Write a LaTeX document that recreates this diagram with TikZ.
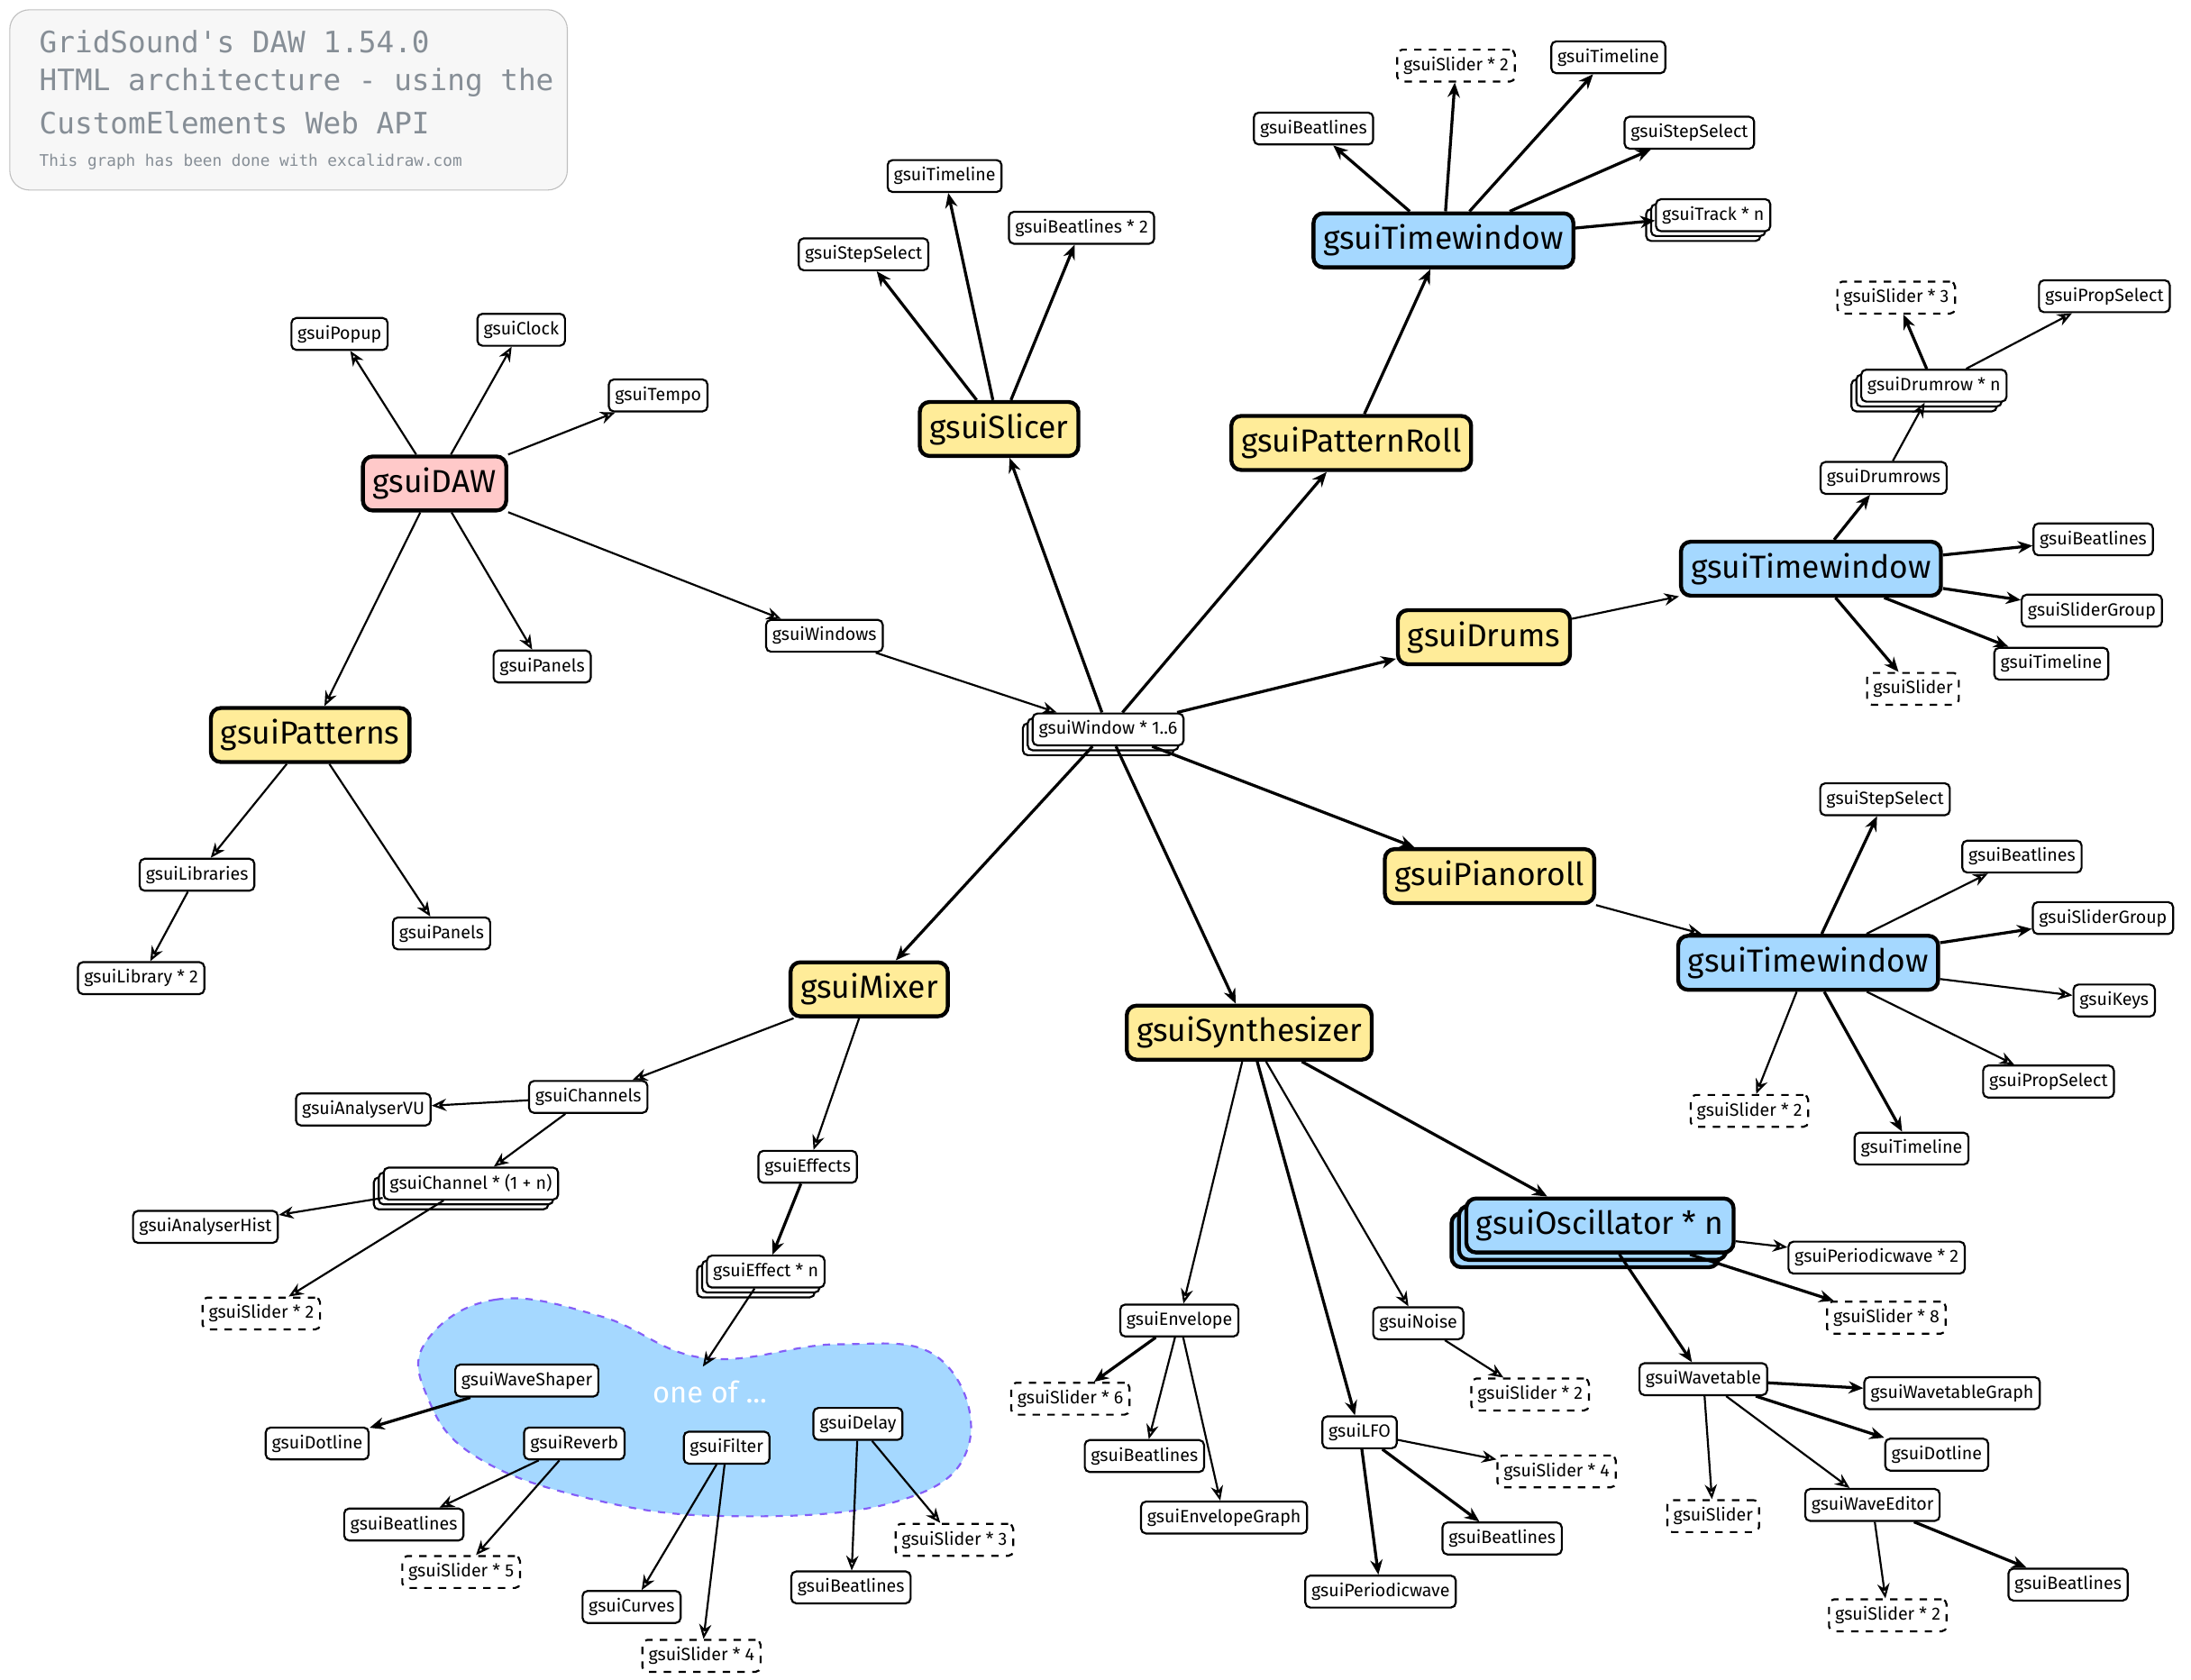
\documentclass[tikz,border=0pt]{standalone}
\usepackage{fontspec}
\setmainfont{Fira Sans}
\newfontfamily\monof{DejaVu Sans Mono}
\usetikzlibrary{arrows.meta,shadows}
\definecolor{pinkc}{HTML}{FFC9C9}
\definecolor{yelc}{HTML}{FFEC99}
\definecolor{bluec}{HTML}{A5D8FF}
\definecolor{purc}{HTML}{845EF7}
\definecolor{grayt}{HTML}{868E96}
\tikzset{
 sm/.style={draw,thick,rounded corners=2pt,fill=white,font=\fontsize{7.2}{8}\selectfont,inner sep=2.5pt,minimum height=13pt},
 dsm/.style={sm,dashed},
 stk/.style={sm,double copy shadow={shadow xshift=-2pt,shadow yshift=-2pt,draw,fill=white}},
 big/.style={draw,line width=1.6pt,rounded corners=4pt,font=\fontsize{13}{15}\selectfont,inner sep=4pt,minimum height=22pt},
 yb/.style={big,fill=yelc},
 bb/.style={big,fill=bluec},
 ar/.style={-{Stealth[open,length=6pt,width=5pt]},thick},
 ar2/.style={ar,line width=1.2pt}
}
\begin{document}
\begin{tikzpicture}[x=0.02cm,y=-0.02cm]
\useasboundingbox (0,0) rectangle (1568,1202);
% title
\draw[draw=gray!50,fill=gray!6,rounded corners=8pt] (7,7) rectangle (406,136);
\node[anchor=west,text=grayt,font=\monof\fontsize{12}{14}\selectfont] (t1) at (22,30) {GridSound's DAW 1.54.0};
\node[anchor=west,text=grayt,font=\monof\fontsize{12}{14}\selectfont] (t2) at (22,59) {HTML architecture - using the};
\node[anchor=west,text=grayt,font=\monof\fontsize{12}{14}\selectfont] (t3) at (22,88) {CustomElements Web API};
\node[anchor=west,text=grayt,font=\monof\fontsize{6.5}{8}\selectfont] (t4) at (22,116) {This graph has been done with excalidraw.com};
% blob
\draw[purc,dashed,thick,fill=bluec] plot[smooth cycle,tension=0.7] coordinates {(305,960) (355,930) (430,942) (505,972) (600,962) (672,972) (693,1035) (640,1075) (520,1085) (420,1072) (340,1042) (306,1000)};
\node[text=white,font=\fontsize{12}{14}\selectfont] (oneof) at (508,996) {one of ...};
% main
\node[big,fill=pinkc] (daw) at (311,346) {gsuiDAW};
\node[yb] (pat) at (222,526) {gsuiPatterns};
\node[yb] (sli) at (715,307) {gsuiSlicer};
\node[yb] (proll) at (967,317) {gsuiPatternRoll};
\node[yb] (drums) at (1062,456) {gsuiDrums};
\node[yb] (piano) at (1066,627) {gsuiPianoroll};
\node[yb] (mix) at (622,708) {gsuiMixer};
\node[yb] (syn) at (894,739) {gsuiSynthesizer};
\node[bb] (tw1) at (1033,172) {gsuiTimewindow};
\node[bb] (tw2) at (1296,407) {gsuiTimewindow};
\node[bb] (tw3) at (1294,689) {gsuiTimewindow};
\node[bb,double copy shadow={shadow xshift=-3pt,shadow yshift=-3pt,draw,fill=bluec}] (osc) at (1145,877) {gsuiOscillator * n};
% DAW
\node[sm] (popup) at (243,239) {gsuiPopup};
\node[sm] (clock) at (373,236) {gsuiClock};
\node[sm] (tempo) at (471,283) {gsuiTempo};
\node[sm] (pan1) at (388,477) {gsuiPanels};
\node[sm] (wins) at (590,455) {gsuiWindows};
\node[stk] (win) at (793,522) {gsuiWindow * 1..6};
\foreach \t in {popup,clock,tempo,pan1,wins,pat} \draw[ar] (daw) -- (\t);
\draw[ar] (wins) -- (win);
\foreach \t in {sli,proll,drums,piano,syn} \draw[ar2] (win) -- (\t);
\draw[ar2] (win) -- (mix);
% patterns
\node[sm] (libs) at (141,626) {gsuiLibraries};
\node[sm] (lib) at (101,700) {gsuiLibrary * 2};
\node[sm] (pan2) at (316,668) {gsuiPanels};
\draw[ar] (pat) -- (libs); \draw[ar] (libs) -- (lib); \draw[ar] (pat) -- (pan2);
% slicer
\node[sm] (stl) at (676,126) {gsuiTimeline};
\node[sm] (sss) at (618,182) {gsuiStepSelect};
\node[sm] (sbl) at (774,163) {gsuiBeatlines * 2};
\foreach \t in {stl,sss,sbl} \draw[ar2] (sli) -- (\t);
% top TW
\draw[ar2] (proll) -- (tw1);
\node[dsm] (a1) at (1042,47) {gsuiSlider * 2};
\node[sm] (a2) at (1151,41) {gsuiTimeline};
\node[sm] (a3) at (940,92) {gsuiBeatlines};
\node[sm] (a4) at (1209,95) {gsuiStepSelect};
\node[stk] (a5) at (1226,154) {gsuiTrack * n};
\foreach \t in {a1,a2,a3,a4,a5} \draw[ar2] (tw1) -- (\t);
% drums TW
\draw[ar] (drums) -- (tw2);
\node[sm] (b1) at (1348,342) {gsuiDrumrows};
\node[stk] (b2) at (1384,276) {gsuiDrumrow * n};
\node[dsm] (b3) at (1357,213) {gsuiSlider * 3};
\node[sm] (b4) at (1506,212) {gsuiPropSelect};
\node[sm] (b5) at (1498,386) {gsuiBeatlines};
\node[sm] (b6) at (1497,437) {gsuiSliderGroup};
\node[sm] (b7) at (1468,475) {gsuiTimeline};
\node[dsm] (b8) at (1369,493) {gsuiSlider};
\foreach \t in {b1,b5,b6,b7,b8} \draw[ar2] (tw2) -- (\t);
\draw[ar] (b1) -- (b2); \draw[ar2] (b2) -- (b3); \draw[ar] (b2) -- (b4);
% piano TW
\draw[ar] (piano) -- (tw3);
\node[sm] (c1) at (1349,572) {gsuiStepSelect};
\node[sm] (c2) at (1447,613) {gsuiBeatlines};
\node[sm] (c3) at (1505,657) {gsuiSliderGroup};
\node[sm] (c4) at (1513,716) {gsuiKeys};
\node[sm] (c5) at (1466,774) {gsuiPropSelect};
\node[sm] (c6) at (1368,822) {gsuiTimeline};
\node[dsm] (c7) at (1252,795) {gsuiSlider * 2};
\foreach \t in {c1,c3,c6} \draw[ar2] (tw3) -- (\t);
\foreach \t in {c2,c4,c5,c7} \draw[ar] (tw3) -- (\t);
% mixer
\node[sm] (chs) at (421,785) {gsuiChannels};
\node[sm] (avu) at (260,794) {gsuiAnalyserVU};
\node[stk] (ch) at (337,847) {gsuiChannel * (1 + n)};
\node[sm] (ahist) at (147,878) {gsuiAnalyserHist};
\node[dsm] (ms2) at (187,940) {gsuiSlider * 2};
\node[sm] (effs) at (578,835) {gsuiEffects};
\node[stk] (eff) at (548,910) {gsuiEffect * n};
\draw[ar] (mix) -- (chs); \draw[ar] (chs) -- (avu); \draw[ar] (chs) -- (ch);
\draw[ar] (ch) -- (ahist); \draw[ar] (ch) -- (ms2);
\draw[ar] (mix) -- (effs); \draw[ar2] (effs) -- (eff);
\coordinate (bt) at (503,978);
\draw[ar] (eff) -- (bt);
% blob contents
\node[sm] (ws) at (377,988) {gsuiWaveShaper};
\node[sm] (rv) at (411,1033) {gsuiReverb};
\node[sm] (fl) at (520,1036) {gsuiFilter};
\node[sm] (dl) at (614,1019) {gsuiDelay};
\node[sm] (dot1) at (227,1033) {gsuiDotline};
\node[sm] (bl1) at (289,1091) {gsuiBeatlines};
\node[dsm] (s5) at (330,1125) {gsuiSlider * 5};
\node[sm] (cur) at (452,1150) {gsuiCurves};
\node[dsm] (s4) at (502,1185) {gsuiSlider * 4};
\node[sm] (bl2) at (609,1136) {gsuiBeatlines};
\node[dsm] (s3) at (683,1102) {gsuiSlider * 3};
\draw[ar2] (ws) -- (dot1); \draw[ar] (rv) -- (bl1); \draw[ar] (rv) -- (s5);
\draw[ar] (fl) -- (cur); \draw[ar] (fl) -- (s4); \draw[ar] (dl) -- (bl2); \draw[ar] (dl) -- (s3);
% synth
\node[sm] (env) at (844,945) {gsuiEnvelope};
\node[dsm] (s6) at (766,1001) {gsuiSlider * 6};
\node[sm] (bl3) at (819,1042) {gsuiBeatlines};
\node[sm] (eg) at (876,1086) {gsuiEnvelopeGraph};
\node[sm] (lfo) at (973,1025) {gsuiLFO};
\node[sm] (pw) at (988,1139) {gsuiPeriodicwave};
\node[sm] (bl4) at (1075,1101) {gsuiBeatlines};
\node[dsm] (s4b) at (1114,1053) {gsuiSlider * 4};
\node[sm] (noise) at (1015,947) {gsuiNoise};
\node[dsm] (s2b) at (1095,998) {gsuiSlider * 2};
\draw[ar] (syn) -- (env); \draw[ar2] (syn) -- (lfo); \draw[ar] (syn) -- (noise); \draw[ar2] (syn) -- (osc);
\draw[ar2] (env) -- (s6); \draw[ar] (env) -- (bl3); \draw[ar] (env) -- (eg);
\draw[ar2] (lfo) -- (pw); \draw[ar2] (lfo) -- (bl4); \draw[ar] (lfo) -- (s4b);
\draw[ar] (noise) -- (s2b);
% osc
\node[sm] (pw2) at (1343,900) {gsuiPeriodicwave * 2};
\node[dsm] (s8) at (1350,943) {gsuiSlider * 8};
\node[sm] (wt) at (1219,987) {gsuiWavetable};
\node[sm] (wtg) at (1397,997) {gsuiWavetableGraph};
\node[sm] (dot2) at (1386,1041) {gsuiDotline};
\node[dsm] (s1) at (1226,1085) {gsuiSlider};
\node[sm] (we) at (1340,1077) {gsuiWaveEditor};
\node[sm] (bl5) at (1480,1134) {gsuiBeatlines};
\node[dsm] (s2c) at (1351,1156) {gsuiSlider * 2};
\draw[ar] (osc) -- (pw2); \draw[ar2] (osc) -- (s8); \draw[ar2] (osc) -- (wt);
\draw[ar2] (wt) -- (wtg); \draw[ar2] (wt) -- (dot2); \draw[ar] (wt) -- (s1); \draw[ar] (wt) -- (we);
\draw[ar2] (we) -- (bl5); \draw[ar] (we) -- (s2c);
\end{tikzpicture}
\end{document}
